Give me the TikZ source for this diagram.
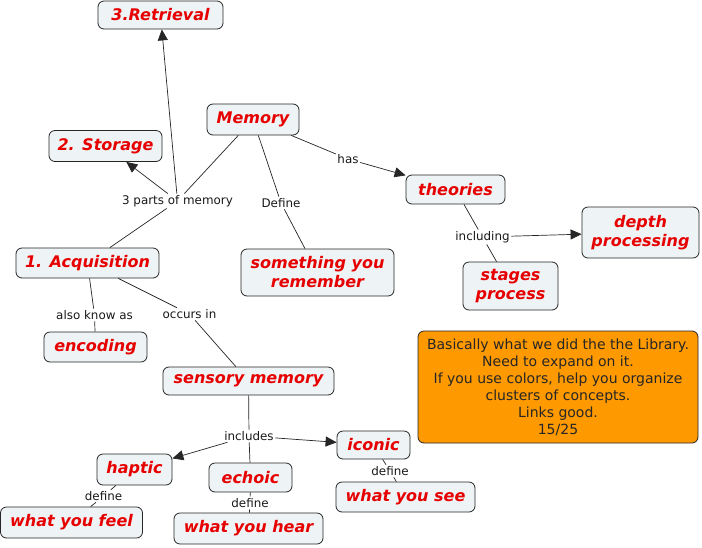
\documentclass[tikz,border=0pt]{standalone}
\usepackage{fontspec}
\setmainfont{DejaVu Sans}
\usetikzlibrary{arrows.meta}
\definecolor{cfill}{HTML}{EEF3F5}
\definecolor{cred}{HTML}{E60000}
\definecolor{corange}{HTML}{FF9900}
\begin{document}
\begin{tikzpicture}[x=1pt,y=-1pt,
 concept/.style={draw=black!85, fill=cfill, rounded corners=6pt, line width=0.8pt, text=cred,
   font=\fontsize{16}{19}\selectfont\bfseries\itshape, align=center, inner sep=0pt},
 lbl/.style={font=\fontsize{11.9}{14}\selectfont, inner sep=1.5pt, text=black!90},
 note/.style={draw=black!85, fill=corange, rounded corners=6pt, line width=0.8pt, text=black!85,
   font=\fontsize{14}{17}\selectfont, align=center, inner sep=0pt},
 link/.style={draw=black!85, line width=0.7pt},
 arr/.style={link, -{Triangle[length=11pt,width=10pt]}},
]
\useasboundingbox[fill=white] (0,0) rectangle (702,547);

% concepts
\node[concept, minimum width=125pt, minimum height=28pt] (retr) at (160.5,15) {3.Retrieval};
\node[concept, minimum width=113pt, minimum height=31pt] (stor) at (105.5,146) {2. Storage};
\node[concept, minimum width=92pt, minimum height=31pt] (mem) at (253,119.5) {Memory};
\node[concept, minimum width=143pt, minimum height=30pt] (acq) at (87.5,263) {1. Acquisition};
\node[concept, minimum width=153pt, minimum height=47pt] (some) at (317.5,272.5) {something you\\remember};
\node[concept, minimum width=99pt, minimum height=29pt] (theo) at (455.5,189.5) {theories};
\node[concept, minimum width=117pt, minimum height=51pt] (depth) at (640.5,232.5) {depth\\processing};
\node[concept, minimum width=95pt, minimum height=48pt] (stag) at (510.5,286) {stages\\process};
\node[concept, minimum width=103pt, minimum height=30pt] (enc) at (95.5,347) {encoding};
\node[concept, minimum width=171pt, minimum height=28pt] (sens) at (248.5,381) {sensory memory};
\node[concept, minimum width=75pt, minimum height=31pt] (hapt) at (134.5,469.5) {haptic};
\node[concept, minimum width=83pt, minimum height=29pt] (echo) at (250.5,477.5) {echoic};
\node[concept, minimum width=73pt, minimum height=28pt] (icon) at (373.5,445) {iconic};
\node[concept, minimum width=139pt, minimum height=30pt] (see) at (405.5,497) {what you see};
\node[concept, minimum width=142pt, minimum height=31pt] (feel) at (71.5,522.5) {what you feel};
\node[concept, minimum width=149pt, minimum height=31pt] (hear) at (248.5,528.5) {what you hear};

% note
\node[note, minimum width=280pt, minimum height=112pt] (noteb) at (558,387) {Basically what we did the the Library.\\Need to expand on it.\\If you use colors, help you organize\\clusters of concepts.\\Links good.\\15/25};

% link labels
\node[lbl] (l3p) at (177.5,201) {3 parts of memory};
\node[lbl] (ldef) at (281,203) {Define};
\node[lbl] (lhas) at (348,159) {has};
\node[lbl] (linc) at (482.5,237) {including};
\node[lbl] (lakn) at (94.5,315) {also know as};
\node[lbl] (locc) at (189.5,314) {occurs in};
\node[lbl] (lincl) at (249,436) {includes};
\node[lbl] (ldh) at (103.5,496) {define};
\node[lbl] (lde) at (250,503) {define};
\node[lbl] (ldi) at (390,471) {define};

% connectors
\draw[link] (mem) -- (l3p);
\draw[link] (l3p) -- (acq);
\draw[arr] (l3p) -- (stor);
\draw[arr] (l3p) -- (retr);
\draw[link] (mem) -- (ldef);
\draw[link] (ldef) -- (some);
\draw[link] (mem) -- (lhas);
\draw[arr] (lhas) -- (theo);
\draw[link] (theo) -- (linc);
\draw[arr] (linc) -- (depth);
\draw[link] (linc) -- (stag);
\draw[link] (acq) -- (lakn);
\draw[link] (lakn) -- (enc);
\draw[link] (acq) -- (locc);
\draw[link] (locc) -- (sens);
\draw[link] (sens) -- (lincl);
\draw[arr] (lincl) -- (hapt);
\draw[arr] (lincl) -- (icon);
\draw[link] (lincl) -- (echo);
\draw[link] (hapt) -- (ldh);
\draw[link] (ldh) -- (feel);
\draw[link] (echo) -- (lde);
\draw[link] (lde) -- (hear);
\draw[link] (icon) -- (ldi);
\draw[link] (ldi) -- (see);
\end{tikzpicture}
\end{document}
